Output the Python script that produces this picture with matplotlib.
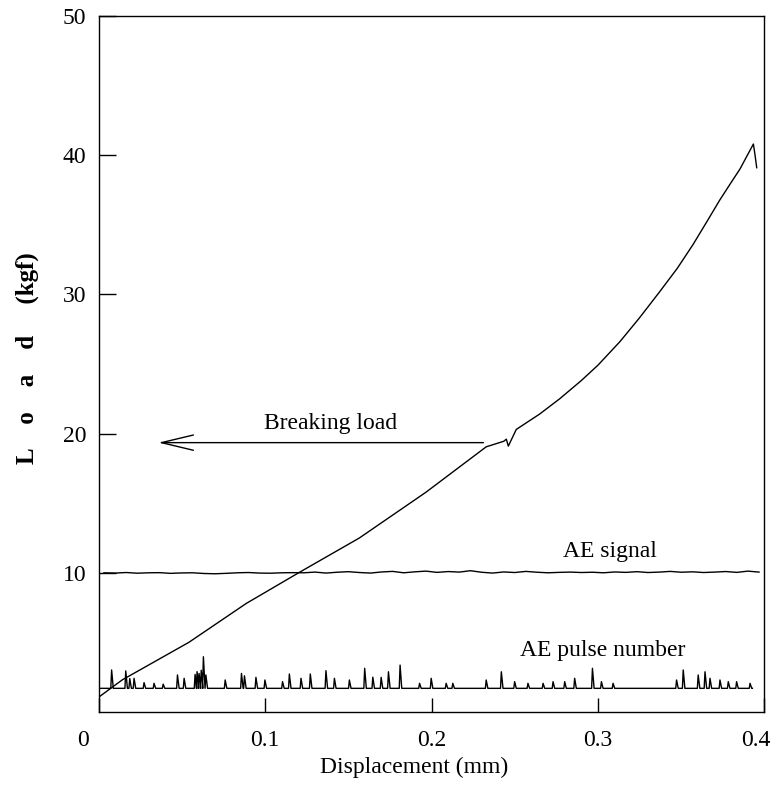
import numpy as np
import matplotlib
matplotlib.use("Agg")
import matplotlib.pyplot as plt
import matplotlib.transforms as mtransforms

plt.rcParams['font.family'] = ['Liberation Serif', 'DejaVu Serif']

# load-displacement curve (mm, kgf)
load_x = [0.0, 0.0139, 0.054, 0.0886, 0.1205, 0.1566, 0.1968, 0.2329,
          0.2435, 0.2450, 0.2462, 0.2470, 0.2510, 0.2650, 0.2771, 0.2900,
          0.3000, 0.3133, 0.3250, 0.3373, 0.3480, 0.3574, 0.3660, 0.3735,
          0.3800, 0.3855, 0.3900, 0.3936, 0.3946, 0.3956]
load_y = [1.08, 2.3, 5.0, 7.8, 10.03, 12.5, 15.8, 19.05,
          19.45, 19.6, 19.1, 19.3, 20.3, 21.4, 22.5, 23.8,
          24.9, 26.6, 28.3, 30.2, 31.9, 33.6, 35.3, 36.8,
          38.0, 39.0, 40.0, 40.8, 40.0, 39.1]

# AE signal trace (offset to ~10 on the load axis)
ae_sig = [10.0, 9.98, 10.02, 9.97, 10.0, 10.01, 9.96, 9.99, 10.0, 9.95,
          9.93, 9.96, 10.0, 10.02, 9.98, 9.97, 10.0, 10.01, 10.0, 10.05,
          9.98, 10.04, 10.08, 10.02, 9.98, 10.06, 10.1, 10.0, 10.07, 10.12,
          10.03, 10.09, 10.05, 10.15, 10.04, 9.98, 10.06, 10.02, 10.1, 10.04,
          10.0, 10.03, 10.05, 10.02, 10.04, 10.0, 10.06, 10.03, 10.08, 10.02,
          10.05, 10.1, 10.04, 10.07, 10.02, 10.05, 10.09, 10.03, 10.12, 10.05]
ae_sig_x = np.linspace(0.003, 0.397, len(ae_sig))

# AE pulse spikes
pulse_base = 1.7
pulse_x = [0.0076, 0.0161, 0.0185, 0.0211, 0.0271, 0.0331, 0.0386, 0.0472,
           0.0512, 0.0578, 0.0590, 0.0602, 0.0615, 0.0628, 0.0643, 0.0759,
           0.0857, 0.0875, 0.0944, 0.0998, 0.1104, 0.1145, 0.1215, 0.1271,
           0.1365, 0.1416, 0.1506, 0.1598, 0.1647, 0.1697, 0.1741, 0.1811,
           0.1928, 0.1998, 0.2088, 0.2128, 0.2329, 0.2420, 0.2500, 0.2580,
           0.2671, 0.2731, 0.2801, 0.2861, 0.2968, 0.3022, 0.3092, 0.3474,
           0.3514, 0.3604, 0.3645, 0.3675, 0.3735, 0.3785, 0.3835, 0.3916]
pulse_h = [3.02, 2.95, 2.4, 2.42, 2.11, 2.06, 2.0, 2.66,
           2.42, 2.7, 2.9, 2.77, 3.0, 3.97, 2.66, 2.3,
           2.77, 2.6, 2.49, 2.3, 2.18, 2.73, 2.42, 2.73,
           2.97, 2.42, 2.3, 3.14, 2.5, 2.49, 2.89, 3.37,
           2.06, 2.42, 2.06, 2.06, 2.3, 2.89, 2.18, 2.06,
           2.06, 2.18, 2.18, 2.42, 3.14, 2.18, 2.06, 2.3,
           3.02, 2.66, 2.89, 2.42, 2.3, 2.18, 2.18, 2.06]

fig = plt.figure(figsize=(7.77, 7.87), dpi=100)
ax = fig.add_axes([0.1274, 0.0953, 0.8559, 0.8844])

lw = 1.0
ax.plot(load_x, load_y, color='black', lw=lw)
ax.plot(ae_sig_x, ae_sig, color='black', lw=lw)

px = [0.0]
py = [pulse_base]
for x, h in zip(pulse_x, pulse_h):
    px += [x - 0.0005, x, x + 0.0010]
    py += [pulse_base, h, pulse_base]
px.append(0.393)
py.append(pulse_base)
ax.plot(px, py, color='black', lw=lw)

ax.annotate('', xy=(0.0341, 19.35), xytext=(0.2329, 19.35),
            arrowprops=dict(arrowstyle='->,head_length=2.3,head_width=0.55',
                            mutation_scale=10, color='black', lw=1.0))
ax.text(0.139, 20.75, 'Breaking load', fontsize=17, ha='center', va='center')
ax.text(0.3072, 11.5, 'AE signal', fontsize=17, ha='center', va='center')
ax.text(0.3032, 4.45, 'AE pulse number', fontsize=17, ha='center', va='center')

ax.set_xlim(0, 0.4)
ax.set_ylim(0, 50)
ax.set_xticks([0, 0.1, 0.2, 0.3, 0.4])
ax.set_xticklabels(['0', '0.1', '0.2', '0.3', '0.4'])
ax.set_yticks([10, 20, 30, 40, 50])
ax.tick_params(axis='x', direction='in', length=10, width=1, pad=13, labelsize=17)
ax.tick_params(axis='y', direction='in', length=12, width=1, pad=9, labelsize=17)
ax.tick_params(top=False, right=False)

xlabs = ax.get_xticklabels()
shift0 = mtransforms.ScaledTranslation(-16 / 100, 0, fig.dpi_scale_trans)
xlabs[0].set_transform(xlabs[0].get_transform() + shift0)
shift4 = mtransforms.ScaledTranslation(-8 / 100, 0, fig.dpi_scale_trans)
xlabs[-1].set_transform(xlabs[-1].get_transform() + shift4)

for s in ax.spines.values():
    s.set_linewidth(1.0)

fig.text(414 / 777, 1 - 767 / 787, 'Displacement (mm)', fontsize=17,
         ha='center', va='center')
fig.text(27 / 777, 1 - 358 / 787, 'L    o    a    d     (kgf)', fontsize=18,
         fontweight='bold', rotation=90, ha='center', va='center')

fig.savefig('out.png', dpi=100)
